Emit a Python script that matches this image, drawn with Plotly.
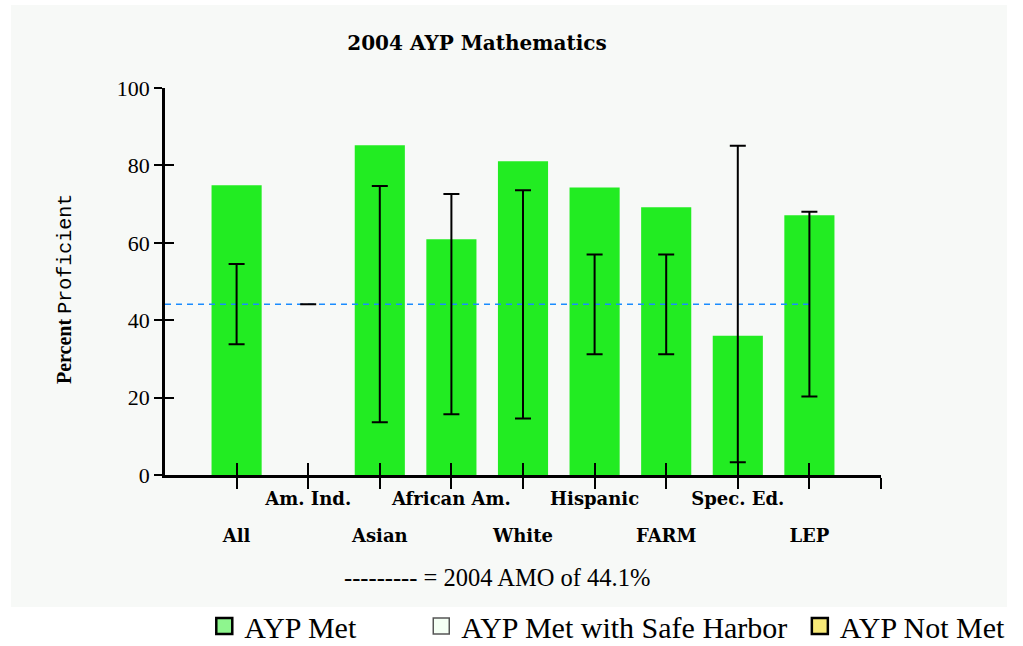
import plotly.graph_objects as go

# ---------------- data ----------------
categories = ["All", "Am. Ind.", "Asian", "African Am.", "White",
              "Hispanic", "FARM", "Spec. Ed.", "LEP"]
pct_proficient = [74.9, None, 85.2, 60.9, 81.1, 74.3, 69.2, 36.0, 67.1]
amo_2004 = 44.1
ci_upper = [54.5, 44.1, 74.7, 72.6, 73.6, 57.0, 57.0, 85.1, 68.0]
ci_lower = [33.8, 44.1, 13.6, 15.7, 14.6, 31.2, 31.2, 3.3, 20.3]
y_ticks = [0, 20, 40, 60, 80, 100]
legend_names = ["AYP Met", "AYP Met with Safe Harbor", "AYP Not Met"]

# ---------------- derived ----------------
xpos = list(range(len(categories)))
x_end = len(categories)            # right end of the category axis
tick_pos = xpos + [x_end]
upper_row = [f"<b>{c}</b>" if i % 2 == 1 else "" for i, c in enumerate(categories)] + [""]
lower_row = [f"<b>{c}</b>" if i % 2 == 0 else "" for i, c in enumerate(categories)] + [""]
err_plus = [u - amo_2004 for u in ci_upper]
err_minus = [amo_2004 - l for l in ci_lower]

BAR_GREEN = "#22ec22"
LABEL_FONT = dict(family="DejaVu Serif", size=18, color="black")
NB = "\u00a0"

fig = go.Figure()

# bars
fig.add_trace(go.Bar(
    x=xpos, y=pct_proficient, width=0.7,
    marker=dict(color=BAR_GREEN, line=dict(width=0)),
    showlegend=False, hoverinfo="skip"))

# AMO dashed line (from axis start to last category)
fig.add_trace(go.Scatter(
    x=[-1, xpos[-1]], y=[amo_2004, amo_2004], mode="lines",
    line=dict(color="#1a8cff", width=1.5, dash="6px,5px"),
    xaxis="x2", yaxis="y", showlegend=False, hoverinfo="skip"))

# confidence intervals around the AMO
fig.add_trace(go.Scatter(
    x=xpos, y=[amo_2004] * len(xpos), mode="markers",
    marker=dict(size=1, color="rgba(0,0,0,0)"),
    error_y=dict(type="data", symmetric=False, array=err_plus,
                 arrayminus=err_minus, color="black", thickness=2, width=8),
    xaxis="x2", yaxis="y", showlegend=False, hoverinfo="skip"))

# dummy on y2 so the inner y ticks are drawn
fig.add_trace(go.Scatter(x=[None], y=[None], xaxis="x2", yaxis="y2",
                         showlegend=False, hoverinfo="skip"))

# legend entries
legend_styles = [
    dict(color="#8ef58e", line=dict(color="black", width=2.5)),
    dict(color="#f4fff4", line=dict(color="#555555", width=1.5)),
    dict(color="#f8ea78", line=dict(color="black", width=2.5)),
]
legend_pad = [NB * 8, NB * 1, ""]
for name, sty, pad in zip(legend_names, legend_styles, legend_pad):
    fig.add_trace(go.Scatter(x=[None], y=[None], mode="markers", name=name + pad,
                             marker=dict(symbol="square", size=16, **sty)))

fig.update_layout(
    width=1023, height=646,
    margin=dict(l=165, r=142, t=88, b=171, autoexpand=False),
    paper_bgcolor="white",
    plot_bgcolor="rgba(0,0,0,0)",
    font=dict(family="Liberation Serif", color="black"),
    title=dict(text="<b>2004 AYP Mathematics</b>", x=477 / 1023, y=1 - 43 / 646,
               xref="container", yref="container", xanchor="center", yanchor="middle",
               font=dict(family="DejaVu Serif", size=20, color="black")),
    xaxis=dict(range=[-1, x_end], tickmode="array", tickvals=tick_pos, ticktext=upper_row,
               ticks="outside", ticklen=11, tickwidth=2, tickcolor="black",
               ticklabelstandoff=-5,
               showline=True, linewidth=2.5, linecolor="black",
               showgrid=False, zeroline=False, tickfont=LABEL_FONT, fixedrange=True),
    xaxis2=dict(range=[-1, x_end], overlaying="x", anchor="y", side="bottom",
                tickmode="array", tickvals=tick_pos, ticktext=lower_row,
                ticks="inside", ticklen=12, tickwidth=2, tickcolor="black",
                ticklabelstandoff=48,
                showline=False, showgrid=False, zeroline=False, tickfont=LABEL_FONT),
    yaxis=dict(range=[0, 100], tickmode="array", tickvals=y_ticks,
               ticks="outside", ticklen=8, tickwidth=2, tickcolor="black",
               showline=True, linewidth=2.5, linecolor="black",
               showgrid=False, zeroline=False,
               tickfont=dict(family="Liberation Serif", size=22, color="black")),
    yaxis2=dict(range=[0, 100], overlaying="y", anchor="x", side="left",
                tickmode="array", tickvals=y_ticks, ticks="inside", ticklen=9,
                tickwidth=2, tickcolor="black", showticklabels=False,
                showline=False, showgrid=False, zeroline=False),
    legend=dict(orientation="h", x=-0.001, y=(475 - 626) / 387,
                xref="paper", yref="paper", xanchor="left", yanchor="middle",
                title=dict(text=NB * 4, side="left",
                           font=dict(family="Liberation Serif", size=30)),
                font=dict(family="Liberation Serif", size=30, color="black"),
                bgcolor="rgba(0,0,0,0)", itemclick=False, itemdoubleclick=False,
                tracegroupgap=0),
    shapes=[dict(type="rect", xref="paper", yref="paper", layer="below",
                 x0=-154 / 716, x1=842 / 716, y0=-132 / 387, y1=470 / 387,
                 fillcolor="#f7f9f7", line=dict(width=0))],
    annotations=[
        dict(text="<b>Percent</b> <span style='font-family:Liberation Mono'>Proficient</span>",
             xref="paper", yref="paper", x=-100 / 716, y=(475 - 289) / 387,
             textangle=-90, showarrow=False, xanchor="center", yanchor="middle",
             font=dict(family="Liberation Serif", size=20, color="black")),
        dict(text="--------- = 2004 AMO of 44.1%", xref="paper", yref="paper",
             x=(497 - 165) / 716, y=(475 - 577) / 387, showarrow=False,
             xanchor="center", yanchor="middle",
             font=dict(family="Liberation Serif", size=24.5, color="black")),
    ],
    bargap=0.3,
)

fig.write_html("out.html", config={"displayModeBar": False},
               post_script="document.body.style.margin='0px';")
